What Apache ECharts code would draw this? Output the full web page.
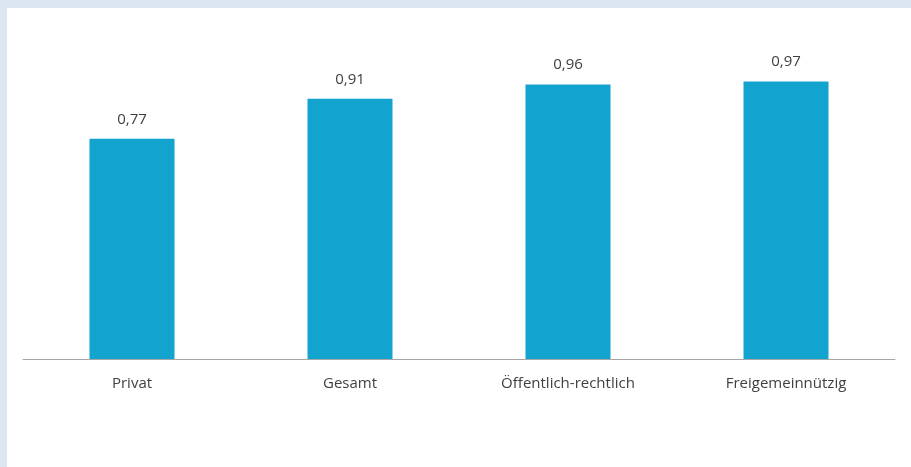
<!DOCTYPE html>
<html><head><meta charset="utf-8">
<script src="https://cdn.jsdelivr.net/npm/echarts@6/dist/echarts.min.js"></script>
<style>html,body{margin:0;padding:0;background:#dce6f1;}#c{width:911px;height:467px;}</style>
</head><body><div id="c"></div>
<script>
const categories = ['Privat', 'Gesamt', 'Öffentlich-rechtlich', 'Freigemeinnützig'];
const values = [0.77, 0.91, 0.96, 0.97];
const chart = echarts.init(document.getElementById('c'));
chart.setOption({
  backgroundColor: '#dce6f1',
  animation: false,
  graphic: [{type: 'rect', shape: {x: 7, y: 8, width: 910, height: 470}, style: {fill: '#ffffff'}, z: -10}],
  grid: {left: 23, right: 16, top: 73, bottom: 108},
  xAxis: {
    type: 'category', data: categories,
    axisLine: {lineStyle: {color: '#a6a6a6', width: 1}},
    axisTick: {show: false},
    axisLabel: {color: '#404040', fontFamily: 'Open Sans', fontSize: 15, margin: 17}
  },
  yAxis: {type: 'value', min: 0, max: 1, show: false, splitLine: {show: false}},
  series: [{
    type: 'bar', data: values, barWidth: 85,
    itemStyle: {color: '#12a3cf'},
    label: {show: true, position: 'top', distance: 12, color: '#404040', fontFamily: 'Open Sans', fontSize: 15,
      formatter: p => p.value.toFixed(2).replace('.', ',')}
  }]
});
</script></body></html>
